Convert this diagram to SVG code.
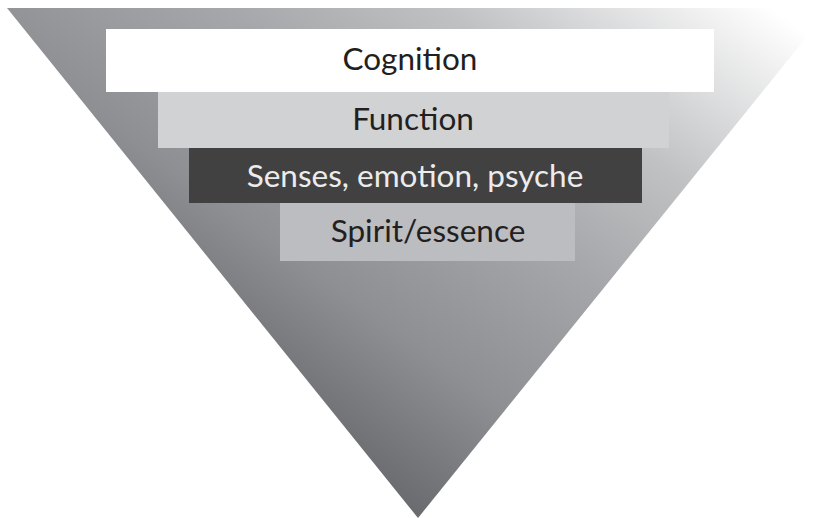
<svg xmlns="http://www.w3.org/2000/svg" width="827" height="518" viewBox="0 0 827 518">
<defs>
<linearGradient id="g" gradientUnits="userSpaceOnUse" x1="380" y1="520" x2="760" y2="0">
<stop offset="0" stop-color="#636467"/>
<stop offset="0.25" stop-color="#8e8f92"/>
<stop offset="0.5" stop-color="#a6a7aa"/>
<stop offset="0.7" stop-color="#c0c1c3"/>
<stop offset="1" stop-color="#ffffff"/>
</linearGradient>
<style>
.t{font-family:"Lato","Open Sans","Liberation Sans",sans-serif;font-size:31.5px;text-anchor:middle}
.dk{fill:#231f20}
.lt{fill:#ececec}
</style>
</defs>
<rect width="827" height="518" fill="#ffffff"/>
<polygon points="7,8 830,8 418,518" fill="url(#g)"/>
<g id="cognition">
<rect x="106" y="29" width="608" height="63" fill="#ffffff"/>
<text class="t dk" x="410" y="70">Cognition</text>
</g>
<g id="function">
<rect x="158" y="92" width="511" height="56" fill="#d1d2d4"/>
<text class="t dk" x="413" y="130">Function</text>
</g>
<g id="senses">
<rect x="189" y="148" width="453" height="55" fill="#414142"/>
<text class="t lt" x="415" y="187">Senses, emotion, psyche</text>
</g>
<g id="spirit">
<rect x="280" y="203" width="295" height="58" fill="#bcbdc0"/>
<text class="t dk" x="428" y="242">Spirit/essence</text>
</g>
<g id="connectors"/>
</svg>
